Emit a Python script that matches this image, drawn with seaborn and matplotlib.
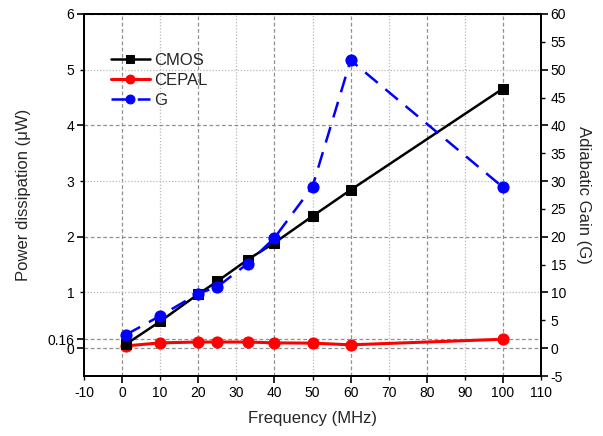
import matplotlib
matplotlib.use("Agg")
import matplotlib.pyplot as plt
import seaborn as sns
import pandas as pd
from matplotlib.ticker import FixedLocator, FixedFormatter

freq = [1, 10, 20, 25, 33, 40, 50, 60, 100]
cmos = [0.07, 0.48, 0.97, 1.20, 1.59, 1.89, 2.37, 2.84, 4.66]
cepal = [0.04, 0.095, 0.11, 0.11, 0.11, 0.095, 0.09, 0.06, 0.16]
gain = [2.4, 5.8, 9.8, 11.0, 15.2, 19.8, 29.0, 51.7, 28.9]

sns.set_style("ticks")
plt.rcParams['font.family'] = ['Liberation Sans', 'DejaVu Sans']

fig = plt.figure(figsize=(6.03, 4.36), dpi=100)
ax = fig.add_axes([84/603, 60/436, (541-84)/603, (376-14)/436])
ax2 = ax.twinx()

df = pd.DataFrame({"freq": freq, "cmos": cmos, "cepal": cepal, "gain": gain})

sns.lineplot(data=df, x="freq", y="cepal", ax=ax, color="#ff0000", marker="o",
             markersize=8, linewidth=2.2, markeredgecolor="#ff0000", label="CEPAL", zorder=3)
sns.lineplot(data=df, x="freq", y="cmos", ax=ax, color="black", marker="s",
             markersize=7.5, linewidth=1.8, markeredgecolor="black", label="CMOS", zorder=4)
sns.lineplot(data=df, x="freq", y="gain", ax=ax2, color="#0000ff", marker="o",
             markersize=8, linewidth=1.8, markeredgecolor="#0000ff", label="G", zorder=5)
for ln in ax2.get_lines():
    ln.set_dashes((6.5, 4))

ax.set_xlim(-10, 110)
ax.set_ylim(-0.5, 6)
ax2.set_ylim(-5, 60)

ax.xaxis.set_major_locator(FixedLocator([0, 20, 40, 60, 80, 100]))
ax.xaxis.set_minor_locator(FixedLocator([-10, 10, 30, 50, 70, 90, 110]))
ax.xaxis.set_minor_formatter(FixedFormatter(["-10", "10", "30", "50", "70", "90", "110"]))
ax.yaxis.set_major_locator(FixedLocator([0, 0.16, 2, 4, 6]))
ax.yaxis.set_major_formatter(FixedFormatter(["0", "0.16", "2", "4", "6"]))
ax.yaxis.set_minor_locator(FixedLocator([1, 3, 5]))
ax.yaxis.set_minor_formatter(FixedFormatter(["1", "3", "5"]))
ax2.yaxis.set_major_locator(FixedLocator([-5, 0, 10, 20, 30, 40, 50, 60]))
ax2.yaxis.set_major_formatter(FixedFormatter(["-5", "0", "10", "20", "30", "40", "50", "60"]))
ax2.yaxis.set_minor_locator(FixedLocator([5, 15, 25, 35, 45, 55]))
ax2.yaxis.set_minor_formatter(FixedFormatter(["5", "15", "25", "35", "45", "55"]))

for a in (ax, ax2):
    a.tick_params(which="major", direction="out", length=5, width=1.2, labelsize=10, colors="black", pad=2)
    a.tick_params(which="minor", direction="out", length=3, width=1.0, labelsize=10, colors="black", pad=4)
    for s in a.spines.values():
        s.set_linewidth(1.4)
        s.set_color("black")

ax.grid(which="major", linestyle=(0, (3, 2)), color="#909090", linewidth=0.9)
ax.grid(which="minor", linestyle=(0, (1, 1.5)), color="#b8b8b8", linewidth=0.9)
ax.set_axisbelow(True)

ax.set_xlabel("Frequency (MHz)", fontsize=12, labelpad=8)
ax.set_ylabel("Power dissipation (\u03bcW)", fontsize=12, labelpad=12)
ax2.set_ylabel("Adiabatic Gain (G)", fontsize=12, rotation=270, labelpad=18)

h1, l1 = ax.get_legend_handles_labels()
h2, l2 = ax2.get_legend_handles_labels()
if ax.get_legend():
    ax.get_legend().remove()
if ax2.get_legend():
    ax2.get_legend().remove()
handles = [h1[1], h1[0], h2[0]]
labels = [l1[1], l1[0], l2[0]]
ax2.legend(handles, labels, loc="upper left", bbox_to_anchor=(0.045, 0.91), frameon=False,
           fontsize=12, handlelength=2.3, handletextpad=0.3, labelspacing=0.3, borderaxespad=0,
           markerscale=0.8)

fig.savefig("out.png", dpi=100)
